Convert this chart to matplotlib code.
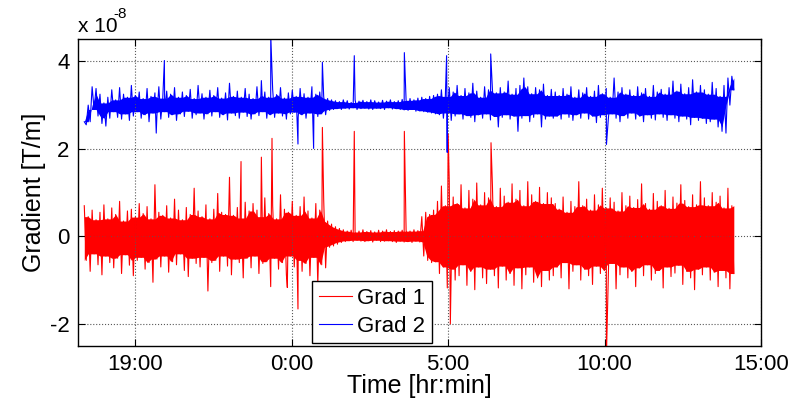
import numpy as np
import matplotlib.pyplot as plt
from matplotlib.ticker import FixedLocator, FuncFormatter

plt.rcParams['font.family'] = ['Liberation Sans', 'DejaVu Sans']
plt.rcParams['axes.unicode_minus'] = False

# time in hours since midnight of day 1 (values > 24 are the next day)
t_start, t_end = 17.37, 38.13

# upper / lower excursions of each record, about every 7.5 min, in 1e-8 T/m (x100)
red_hi = """
70 45 60 38 55 72 40 65 50 80 35 58 62 44 75 52 68 40 118 55
48 70 42 85 60 38 66 50 110 58 45 72 40 62 98 55 50 135 48 66
42 78 58 75 60 45 88 52 70 40 95 62 55 80 48 68 90 58 42 75 60 85
35 28 22 18 15 12 14 10 12 15 11 13 10 14 12 15 11 13 12 14 14 12 15 13 45 55 50 60
80 115 70 125 90 75 118 65 105 85 122 72 100 88 115 68 110 92 78 120
85 105 70 125 95 80 112 75 100 88
75 62 90 55 80 68 125 70 85 60 95 72 110 65 88 78 58 100 70 92
66 84 120 75 62 98 80 70 105 64 90 76 118 82 68 95 72 125 88 70 100 78 92 65 110 70
"""
red_lo = """
-55 -80 -40 -65 -88 -45 -60 -72 -50 -85 -42 -66 -90 -55 -48 -75 -60 -105 -52 -70
-45 -82 -58 -65 -40 -78 -92 -50 -62 -70 -48 -125 -60 -55 -80 -45 -68 -88 -52 -60
-95 -50 -72 -45 -85 -62 -58 -115 -50 -75 -60 -88 -45 -70 -55 -80 -62 -90 -48 -110 -65 -72
-25 -22 -18 -14 -12 -10 -12 -9 -11 -12 -10 -13 -9 -12 -11 -10 -12 -14 -11 -13 -12 -14 -11 -13 -45 -55 -60 -58
-85 -70 -118 -75 -100 -90 -65 -112 -80 -122 -70 -95 -108 -75 -90 -118 -68 -100 -85 -112
-72 -120 -88 -70 -105 -95 -115 -78 -100 -90
-70 -95 -60 -120 -80 -65 -100 -75 -90 -110 -68 -85 -78 -105 -62 -120 -88 -70 -95 -80
-115 -72 -90 -65 -100 -85 -78 -118 -70 -92 -84 -66 -110 -80 -95 -122 -75 -88 -70 -100 -82 -115 -78 -95 -120 -85
"""
blue_hi = """
262 300 342 338 325 305 318 335 312 340 325 318 345 322 330 315 338 320 328 342
316 332 325 340 318 330 322 336 315 345 326 318 334 322 340 316 328 350 320 332
318 338 325 315 342 322 330 318 336 324 340 316 328 334 320 338 326 318 342 325 330 320
315 312 310 308 312 310 306 312 309 311 308 312 310 307 311 309 312 308 310 313 311 315 312 316 318 315 320 322
325 335 320 340 330 345 322 338 328 350 332 318 342 335 335 328 340 330 355 325
338 345 362 342 326 340 335 348 322 336
330 322 338 325 342 318 335 328 340 320 332 345 326 338 318 362 330 340 325 335
322 342 328 338 320 345 330 336 325 340 355 332 348 326 340 358 330 345 335 325 352 338 320 345 362 366
"""
blue_lo = """
255 262 290 275 258 252 270 285 272 268 280 265 275 285 270 278 262 282 275 268
285 272 278 265 280 274 286 270 278 282 268 280 275 285 272 278 266 282 276 270
284 274 268 280 276 285 270 278 272 282 275 268 280 284 272 278 270 282 276 274 280 278
288 290 292 290 293 291 294 290 292 293 291 290 293 292 290 294 291 292 290 289 288 290 286 287 285 284 282 280
278 270 282 265 275 280 268 276 272 262 278 270 280 266 274 250 272 278 268 275
240 270 276 262 272 280 250 268 275 270
275 268 280 272 265 278 270 282 268 275 260 272 278 265 280 270 262 276 270 282
268 275 262 278 270 266 280 272 265 278 270 262 275 268 255 272 265 270 258 262 268 250 240 236 300 335
"""

# isolated spikes (time [h], value in 1e-8 T/m)
red_spike_t = [22.38, 23.03, 23.37, 23.86, 24.2, 24.98, 26.0, 27.6, 29.0, 29.07, 30.37, 34.06]
red_spike_v = [1.71, 1.81, 2.24, -1.17, -1.66, 2.49, 2.4, 2.4, 2.34, -2.0, 2.14, -2.7]
blue_spike_t = [19.67, 19.93, 23.03, 23.33, 24.2, 24.7, 24.98, 26.0, 27.6, 28.95, 28.97, 30.36, 34.06]
blue_spike_v = [2.36, 4.02, 3.56, 4.6, 2.11, 2.01, 3.98, 4.13, 4.2, 4.13, 1.92, 4.17, 2.1]


def parse(s):
    return np.array(s.split(), dtype=float) / 100


def trace(hi, lo, spike_t, spike_v):
    tt = np.linspace(t_start, t_end, 2 * len(hi))
    vv = np.column_stack([hi, lo]).ravel()
    tt = np.concatenate([tt, spike_t])
    vv = np.concatenate([vv, spike_v])
    order = np.argsort(tt, kind='stable')
    return tt[order], vv[order]


def inner(v, fn):
    # dense part of the band: the smallest excursion among neighbours
    p = np.pad(v, 1, mode='edge')
    return fn(np.vstack([p[:-2], p[1:-1], p[2:]]), axis=0)


r_hi, r_lo = parse(red_hi), parse(red_lo)
b_hi, b_lo = parse(blue_hi), parse(blue_lo)
t_pair = np.linspace(t_start, t_end, len(r_hi))

fig = plt.figure(figsize=(8.01, 4.08), dpi=100)
ax = fig.add_axes([0.0974, 0.1527, 0.8527, 0.7505])

rt, rv = trace(r_hi, r_lo, red_spike_t, red_spike_v)
bt, bv = trace(b_hi, b_lo, blue_spike_t, blue_spike_v)
ax.fill_between(t_pair, inner(r_lo, np.max), inner(r_hi, np.min), color='red', lw=0)
ax.plot(rt, rv, color='red', lw=0.8, label='Grad 1')
ax.fill_between(t_pair, inner(b_lo, np.max), inner(b_hi, np.min), color='blue', lw=0)
ax.plot(bt, bv, color='blue', lw=0.8, label='Grad 2')

ax.set_xlim(17.17, 39.0)
ax.set_ylim(-2.5, 4.5)
ax.xaxis.set_major_locator(FixedLocator([19, 24, 29, 34, 39]))
ax.xaxis.set_major_formatter(FuncFormatter(lambda h, p: '%d:00' % (int(round(h)) % 24)))
ax.set_yticks([-2, 0, 2, 4])
ax.tick_params(direction='in', length=5, width=0.8, top=True, right=True, labelsize=16, pad=6)
ax.grid(True, linestyle=':', color='0.35', linewidth=0.8)
for s in ax.spines.values():
    s.set_linewidth(1.0)

ax.set_xlabel('Time [hr:min]', fontsize=18, labelpad=-1)
ax.set_ylabel('Gradient [T/m]', fontsize=18, labelpad=3)
ax.text(0.0, 1.012, 'x 10', transform=ax.transAxes, fontsize=15, va='bottom', ha='left')
ax.text(0.052, 1.06, '-8', transform=ax.transAxes, fontsize=11, va='bottom', ha='left')

leg = ax.legend(loc='lower left', bbox_to_anchor=(0.343, 0.008), fontsize=16, handlelength=1.5,
                handletextpad=0.2, labelspacing=0.3, borderpad=0.3, borderaxespad=0.0,
                fancybox=False, framealpha=1.0, edgecolor='black')
leg.get_frame().set_linewidth(1.0)

fig.savefig('out.png', dpi=100)
